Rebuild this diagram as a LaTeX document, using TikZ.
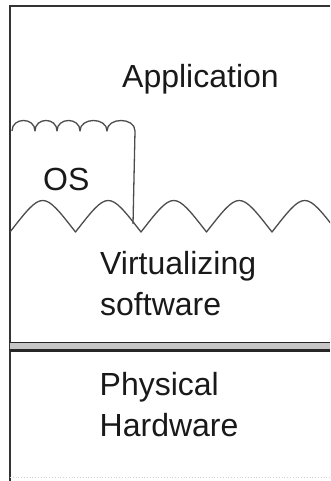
\documentclass[tikz,border=0pt]{standalone}
\usepackage{fontspec}
\setmainfont{Liberation Sans}
\usepackage{tikz}
\usetikzlibrary{positioning}

\begin{document}
\begin{tikzpicture}[
    x=1pt, y=-1pt,
    frame/.style={draw=black!80, line width=1.4pt},
    edge/.style={draw=black!70, line width=1.3pt, line join=round},
    layer/.style={font=\fontsize{32}{41}\selectfont, text=black!90, inner sep=0pt, align=left}
]
    \useasboundingbox (0,0) rectangle (330,481);

    % Outer frame: top and left edges, faint dotted bottom
    \draw[frame] (330,6) -- (10,6) -- (10,481);
    \draw[gray!35, dotted, line width=0.8pt] (10,477) -- (330,477);

    % Application layer label
    \node[layer, anchor=base west] (app) at (122,88) {Application};

    % OS box: scalloped top edge, right side down to the wave
    \draw[edge] (12,131)
        .. controls (12,117) and (35,117) .. (35,131)
        .. controls (35,117) and (57,117) .. (57,131)
        .. controls (57,117) and (80,117) .. (80,131)
        .. controls (80,117) and (107,117) .. (107,131)
        .. controls (107,117) and (135,117) .. (135,131)
        -- (133,224);
    \node[layer, anchor=base west] (os) at (43,190) {OS};

    % Wavy boundary above the virtualizing software
    \begin{scope}
        \clip (10,150) rectangle (330,260);
        \draw[edge] (10,232)
            \foreach \t in {10,75.5,141,206.5,272} {
                .. controls (\t+32.75,190) .. (\t+65.5,232)
            };
    \end{scope}
    \node[layer, anchor=north west] (virt) at (100,251) {Virtualizing\\software};

    % Double rule between software and hardware
    \fill[gray!45] (10,343) rectangle (330,350);
    \draw[black!85, line width=1.6pt] (10,342.5) -- (330,342.5);
    \draw[black!85, line width=2.6pt] (10,350.5) -- (330,350.5);

    % Hardware layer label
    \node[layer, anchor=north west] (hw) at (99.5,372) {Physical\\Hardware};

\end{tikzpicture}
\end{document}
